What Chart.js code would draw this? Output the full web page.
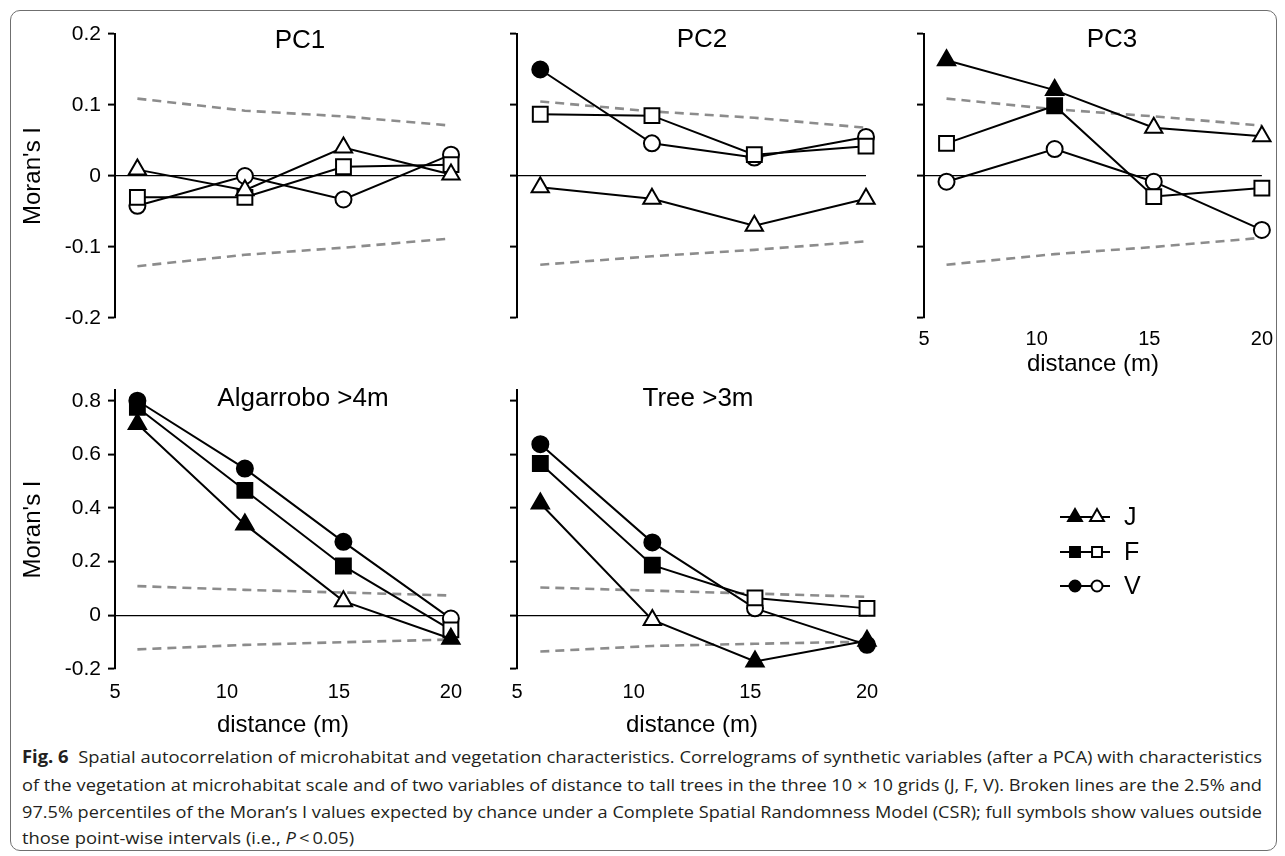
<!DOCTYPE html>
<html>
<head>
<meta charset="utf-8">
<script src="https://cdn.jsdelivr.net/npm/chart.js@4.4.1/dist/chart.umd.min.js"></script>
<style>
  body { margin: 0; background: #fff; width: 1285px; height: 856px; position: relative; overflow: hidden;
         font-family: "Liberation Sans", Arial, sans-serif; }
  #frame { position: absolute; left: 10px; top: 10px; width: 1267px; height: 841px; box-sizing: border-box;
           border: 1.5px solid #6f6f6f; border-radius: 10px; }
  canvas { position: absolute; }
  .ptitle { position: absolute; font-size: 26px; transform: translate(-50%, -50%); white-space: nowrap; color: #000; }
  .cap { position: absolute; left: 22px; font-family: "Open Sans", sans-serif; font-size: 17px; line-height: 22px;
         white-space: nowrap; transform-origin: 0 50%; color: #231f20; }
</style>
</head>
<body>
<div id="frame"></div>

<canvas id="pc1"></canvas>
<canvas id="pc2"></canvas>
<canvas id="pc3"></canvas>
<canvas id="alg"></canvas>
<canvas id="tree"></canvas>

<div class="cap" id="cap1" style="top:746px"><b>Fig. 6</b>&nbsp; Spatial autocorrelation of microhabitat and vegetation characteristics. Correlograms of synthetic variables (after a PCA) with characteristics</div>
<div class="cap" id="cap2" style="top:774px">of the vegetation at microhabitat scale and of two variables of distance to tall trees in the three 10 × 10 grids (J, F, V). Broken lines are the 2.5% and</div>
<div class="cap" id="cap3" style="top:801px">97.5% percentiles of the Moran’s I values expected by chance under a Complete Spatial Randomness Model (CSR); full symbols show values outside</div>
<div class="cap" id="cap4" style="top:827px">those point-wise intervals (i.e., <i>P</i>&thinsp;&lt;&thinsp;0.05)</div>

<script>
// distance classes (m) and axis ticks
const distances = [6, 10.8, 15.2, 20];
const xTicks = [5, 10, 15, 20];
const topTicks = [-0.2, -0.1, 0, 0.1, 0.2];
const bottomTicks = [-0.2, 0, 0.2, 0.4, 0.6, 0.8];
const groups = ['J', 'F', 'V'];
const panelTitles = ['PC1', 'PC2', 'PC3', 'Algarrobo >4m', 'Tree >3m'];

// Moran's I per grid
const pc1J = [0.009, -0.020, 0.040, 0.002];
const pc1F = [-0.030, -0.030, 0.013, 0.016];
const pc1V = [-0.042, 0.000, -0.033, 0.030];
const pc2J = [-0.016, -0.032, -0.070, -0.032];
const pc2F = [0.087, 0.085, 0.030, 0.042];
const pc2V = [0.150, 0.046, 0.026, 0.055];
const pc3J = [0.163, 0.121, 0.068, 0.056];
const pc3F = [0.046, 0.099, -0.029, -0.017];
const pc3V = [-0.008, 0.038, -0.008, -0.076];
const algJ = [0.713, 0.339, 0.053, -0.087];
const algF = [0.775, 0.466, 0.184, -0.054];
const algV = [0.800, 0.547, 0.274, -0.012];
const treeJ = [0.417, -0.017, -0.172, -0.095];
const treeF = [0.566, 0.187, 0.065, 0.026];
const treeV = [0.638, 0.272, 0.026, -0.110];

// 1 = full symbol (value outside the CSR envelope)
const pc1Full = [0, 0, 0, 0];
const pc2VFull = [1, 0, 0, 0];
const pc3JFull = [1, 1, 0, 0];
const pc3FFull = [0, 1, 0, 0];
const algJFull = [1, 1, 0, 1];
const algFFull = [1, 1, 1, 0];
const algVFull = [1, 1, 1, 0];
const treeJFull = [1, 0, 1, 1];
const treeFFull = [1, 1, 0, 0];
const treeVFull = [1, 1, 0, 1];

// 2.5% / 97.5% envelopes (broken lines)
const pc1Upper = [0.109, 0.092, 0.084, 0.071];
const pc1Lower = [-0.127, -0.111, -0.101, -0.088];
const pc2Upper = [0.105, 0.091, 0.082, 0.068];
const pc2Lower = [-0.125, -0.113, -0.104, -0.092];
const pc3Upper = [0.109, 0.094, 0.084, 0.071];
const pc3Lower = [-0.125, -0.110, -0.100, -0.087];
const algUpper = [0.109, 0.095, 0.085, 0.074];
const algLower = [-0.127, -0.110, -0.100, -0.090];
const treeUpper = [0.104, 0.092, 0.081, 0.069];
const treeLower = [-0.135, -0.114, -0.106, -0.098];

const FONT = '"Liberation Sans", Arial, sans-serif';
const pointStyles = ['triangle', 'rect', 'circle'];
const pointRadii = [10, 10.5, 8];

// where each plot area sits on the page
const boxes = {
  pc1:  {L: 115, R: 451,  T: 34,  B: 318, yW: 103, padT: 20, padR: 20,  xH: 62, xPad: 9,  tPad: 1},
  pc2:  {L: 517, R: 866,  T: 34,  B: 318, yW: 20,  padT: 20, padR: 20,  xH: 62, xPad: 9,  tPad: 1},
  pc3:  {L: 924, R: 1270, T: 34,  B: 318, yW: 20,  padT: 20, padR: 12,  xH: 62, xPad: 9,  tPad: 1},
  alg:  {L: 115, R: 453,  T: 390, B: 669, yW: 103, padT: 20, padR: 20,  xH: 72, xPad: 11, tPad: 1},
  tree: {L: 517, R: 867,  T: 390, B: 669, yW: 20,  padT: 20, padR: 323, xH: 72, xPad: 11, tPad: 1}
};
const titlePos = [[300, 39], [702, 38], [1112, 38], [303, 397], [698, 397]];

const toPoints = vals => vals.map((v, i) => ({x: distances[i], y: v}));

function makeDatasets(values, fulls, upper, lower) {
  const env = vals => ({
    data: toPoints(vals), order: 10,
    borderColor: '#8c8c8c', borderWidth: 2.6, borderDash: [9, 6],
    pointRadius: 0, pointHoverRadius: 0, fill: false, clip: false
  });
  const sets = [env(upper), env(lower)];
  values.forEach((vals, k) => {
    sets.push({
      label: groups[k],
      data: toPoints(vals),
      order: k,
      borderColor: '#000', borderWidth: 2, fill: false,
      pointStyle: pointStyles[k], pointRadius: pointRadii[k], pointBorderWidth: 2,
      pointBorderColor: '#000',
      pointBackgroundColor: fulls[k].map(f => f ? '#000' : '#fff'),
      clip: false
    });
  });
  return sets;
}

function makePanel(id, yTicks, yMin, yMax, datasets, showX, showY, plugins) {
  const b = boxes[id];
  const cv = document.getElementById(id);
  const w = b.yW + (b.R - b.L) + b.padR;
  const h = b.padT + (b.B - b.T) + b.xH;
  cv.width = w; cv.height = h;
  cv.style.left = (b.L - b.yW) + 'px';
  cv.style.top = (b.T - b.padT) + 'px';
  cv.style.width = w + 'px'; cv.style.height = h + 'px';

  return new Chart(cv, {
    type: 'line',
    data: {datasets},
    plugins: plugins || [],
    options: {
      responsive: false, animation: false, devicePixelRatio: 1,
      layout: {padding: {top: b.padT, right: b.padR, left: 0, bottom: 0}},
      plugins: {legend: {display: false}, tooltip: {enabled: false}},
      scales: {
        x: {
          type: 'linear', min: 5, max: 20,
          afterBuildTicks: s => { s.ticks = xTicks.map(v => ({value: v})); },
          afterFit: s => { s.height = b.xH; },
          grid: {display: false, drawTicks: false},
          border: {display: false},
          ticks: {display: showX, padding: b.xPad, color: '#000', font: {family: FONT, size: 20}, maxRotation: 0},
          title: {display: showX, text: 'distance (m)', color: '#000',
                  font: {family: FONT, size: 24}, padding: {top: 0, bottom: b.tPad}}
        },
        y: {
          type: 'linear', min: yMin, max: yMax,
          afterBuildTicks: s => { s.ticks = yTicks.map(v => ({value: v})); },
          afterFit: s => { s.width = b.yW; },
          grid: {
            drawOnChartArea: true, drawTicks: true, tickLength: 7,
            color: c => (c.tick && c.tick.value === 0) ? '#000' : 'rgba(0,0,0,0)',
            lineWidth: 1.2, tickColor: '#000', tickWidth: 2
          },
          border: {display: true, color: '#000', width: 2},
          ticks: {display: showY, padding: 7, color: '#000', font: {family: FONT, size: 21},
                  callback: v => String(v)},
          title: {display: showY, text: "Moran's I", color: '#000',
                  font: {family: FONT, size: 24}, padding: {top: 7, bottom: 0}}
        }
      }
    }
  });
}

// J / F / V key, drawn next to the Tree panel
const legendRowsY = [517, 552, 586];
const legendRadii = [8, 7, 5.5];
const legendPlugin = {
  id: 'jfvKey',
  afterDraw(chart) {
    const b = boxes.tree;
    const ox = b.L - b.yW, oy = b.T - b.padT;
    const ctx = chart.ctx;
    ctx.save();
    groups.forEach((g, k) => {
      const y = legendRowsY[k] - oy;
      ctx.strokeStyle = '#000'; ctx.lineWidth = 2;
      ctx.beginPath(); ctx.moveTo(1060 - ox, y); ctx.lineTo(1110 - ox, y); ctx.stroke();
      [[1075, '#000'], [1097, '#fff']].forEach(([x, fill]) => {
        ctx.fillStyle = fill; ctx.strokeStyle = '#000'; ctx.lineWidth = 2;
        Chart.helpers.drawPoint(ctx, {pointStyle: pointStyles[k], radius: legendRadii[k], rotation: 0, borderWidth: 2}, x - ox, y);
      });
      ctx.fillStyle = '#000';
      ctx.font = '25px ' + FONT;
      ctx.textAlign = 'left'; ctx.textBaseline = 'middle';
      ctx.fillText(g, 1124 - ox, y + 1);
    });
    ctx.restore();
  }
};

makePanel('pc1', topTicks, -0.2, 0.2,
  makeDatasets([pc1J, pc1F, pc1V], [pc1Full, pc1Full, pc1Full], pc1Upper, pc1Lower), false, true);
makePanel('pc2', topTicks, -0.2, 0.2,
  makeDatasets([pc2J, pc2F, pc2V], [pc1Full, pc1Full, pc2VFull], pc2Upper, pc2Lower), false, false);
makePanel('pc3', topTicks, -0.2, 0.2,
  makeDatasets([pc3J, pc3F, pc3V], [pc3JFull, pc3FFull, pc1Full], pc3Upper, pc3Lower), true, false);
makePanel('alg', bottomTicks, -0.2, 0.84,
  makeDatasets([algJ, algF, algV], [algJFull, algFFull, algVFull], algUpper, algLower), true, true);
makePanel('tree', bottomTicks, -0.2, 0.84,
  makeDatasets([treeJ, treeF, treeV], [treeJFull, treeFFull, treeVFull], treeUpper, treeLower), true, false, [legendPlugin]);

// panel titles
panelTitles.forEach((t, i) => {
  const d = document.createElement('div');
  d.className = 'ptitle';
  d.textContent = t;
  d.style.left = titlePos[i][0] + 'px';
  d.style.top = titlePos[i][1] + 'px';
  document.body.appendChild(d);
});

// squeeze caption lines to the printed width
function fitCaption() {
  const target = 1240;
  const c1 = document.getElementById('cap1');
  const s1 = target / c1.getBoundingClientRect().width;
  ['cap1', 'cap2', 'cap3'].forEach(id => {
    const el = document.getElementById(id);
    el.style.transform = 'scaleX(' + (target / el.getBoundingClientRect().width) + ')';
  });
  document.getElementById('cap4').style.transform = 'scaleX(' + s1 + ')';
}
fitCaption();
</script>
</body>
</html>
